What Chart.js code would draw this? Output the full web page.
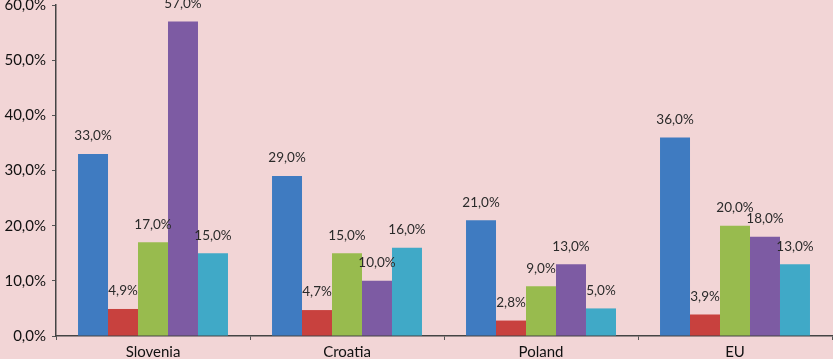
<!DOCTYPE html>
<html><head><meta charset="utf-8">
<script src="https://cdn.jsdelivr.net/npm/chart.js@4/dist/chart.umd.min.js"></script>
<style>html,body{margin:0;padding:0;background:#f2d5d6;}#wrap{width:833px;height:359px;}</style>
</head><body><div id="wrap"><canvas id="c" width="833" height="359"></canvas></div>
<script>
const categories = ["Slovenia", "Croatia", "Poland", "EU"];
const series1 = [33.0, 29.0, 21.0, 36.0];
const series2 = [4.9, 4.7, 2.8, 3.9];
const series3 = [17.0, 15.0, 9.0, 20.0];
const series4 = [57.0, 10.0, 13.0, 18.0];
const series5 = [15.0, 16.0, 5.0, 13.0];
const colors = ["#3f7bc1", "#c8413e", "#98bb4e", "#7d5ba3", "#40a9c7"];
const allSeries = [series1, series2, series3, series4, series5];

const fmt = v => v.toFixed(1).replace('.', ',') + '%';
const FONT = "Lato, 'Open Sans', sans-serif";

const labelPlugin = {
  id: 'labels',
  afterDatasetsDraw(chart) {
    const ctx = chart.ctx;
    ctx.save();
    ctx.font = "13.5px " + FONT;
    ctx.fillStyle = "#2a2a2a";
    ctx.textAlign = "center";
    ctx.textBaseline = "middle";
    chart.data.datasets.forEach((ds, i) => {
      const meta = chart.getDatasetMeta(i);
      meta.data.forEach((bar, j) => {
        ctx.fillText(fmt(ds.data[j]), bar.x, bar.y - 18);
      });
    });
    ctx.restore();
  }
};

new Chart(document.getElementById('c'), {
  type: 'bar',
  data: {
    labels: categories,
    datasets: allSeries.map((s, i) => ({
      data: s,
      backgroundColor: colors[i],
      borderWidth: 0,
      categoryPercentage: 0.773,
      barPercentage: 1.0
    }))
  },
  options: {
    responsive: false,
    animation: false,
    layout: { padding: { top: 5, right: 1, left: 0, bottom: 0 } },
    plugins: { legend: { display: false }, tooltip: { enabled: false } },
    scales: {
      x: {
        offset: true,
        grid: { display: true, drawOnChartArea: false, drawTicks: true, tickLength: 4, color: '#555', offset: true },
        border: { display: true, color: '#444', width: 1.5 },
        ticks: { color: '#111', font: { family: FONT, size: 15 }, padding: 3 },
        afterFit(scale) { scale.height = 23; scale.paddingLeft = 0; scale.paddingRight = 0; }
      },
      y: {
        min: 0, max: 60,
        grid: { display: true, drawOnChartArea: false, drawTicks: true, tickLength: 4, color: '#555' },
        border: { display: true, color: '#444', width: 1.5 },
        ticks: { stepSize: 10, color: '#111', font: { family: FONT, size: 15 }, padding: 6,
          callback: v => fmt(v) },
        afterFit(scale) { scale.width = 56; scale.paddingTop = 0; scale.paddingBottom = 0; }
      }
    }
  },
  plugins: [labelPlugin]
});
</script></body></html>
